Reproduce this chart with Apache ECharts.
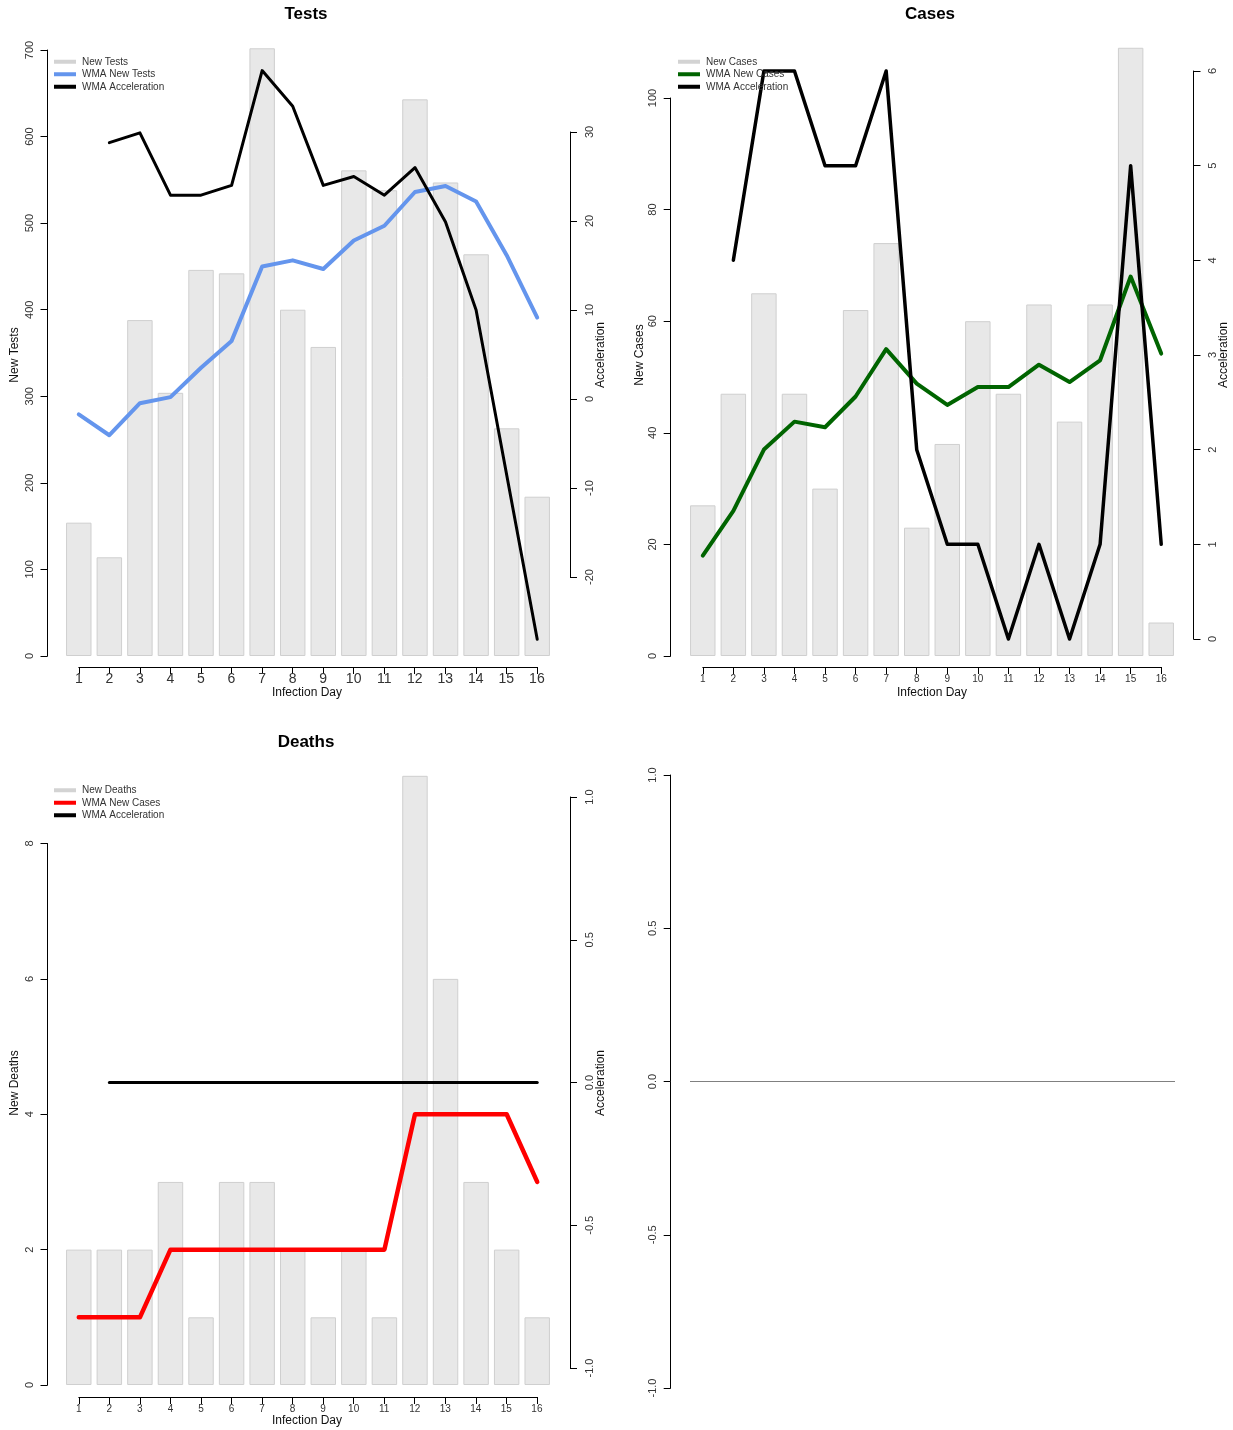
<!DOCTYPE html>
<html>
<head>
<meta charset="utf-8">
<script src="https://cdn.jsdelivr.net/npm/echarts@6/dist/echarts.min.js"></script>
<style>
html,body{margin:0;padding:0;background:#ffffff;}
#chart{width:1233px;height:1430px;}
</style>
</head>
<body>
<div id="chart"></div>
<script>
// ---------------- data ----------------
const days = ['1','2','3','4','5','6','7','8','9','10','11','12','13','14','15','16'];

const testsNew   = [154, 114, 388, 304, 446, 442, 702, 400, 357, 561, 538, 643, 547, 464, 263, 184];
const testsWMA   = [279, 255, 292, 299, 333, 364, 450, 457, 447, 480, 497, 536, 543, 525, 463, 391];
const testsAccel = [null, 28.8, 29.9, 22.9, 22.9, 24.0, 36.9, 32.9, 24.0, 25.0, 22.9, 26.0, 19.9, 10.0, -8.5, -27.0];

const casesNew   = [27, 47, 65, 47, 30, 62, 74, 23, 38, 60, 47, 63, 42, 63, 109, 6];
const casesWMA   = [18, 26, 37, 42, 41, 46.5, 55, 48.8, 45, 48.2, 48.2, 52.2, 49.1, 53, 68, 54.2];
const casesAccel = [null, 4, 6, 6, 5, 5, 6, 2, 1, 1, 0, 1, 0, 1, 5, 1];

const deathsNew   = [2, 2, 2, 3, 1, 3, 3, 2, 1, 2, 1, 9, 6, 3, 2, 1];
const deathsWMA   = [1, 1, 1, 2, 2, 2, 2, 2, 2, 2, 2, 4, 4, 4, 4, 3];
const deathsAccel = [null, 0, 0, 0, 0, 0, 0, 0, 0, 0, 0, 0, 0, 0, 0, 0];

const emptyLineX = [0, 1];
const emptyLineY = [0, 0];

// ---------------- styling helpers ----------------
const FONT = '"Liberation Sans", Arial, Helvetica, sans-serif';
const TICK_COLOR = '#333333';
const BAR_FILL = '#e8e8e8';
const BAR_BORDER = '#cfcfcf';

function valueAxis(gridIndex, position, min, max, interval, offset, fmt) {
  return {
    type: 'value', gridIndex, position, min, max, interval, offset,
    axisLine: {show: true, onZero: false, lineStyle: {color: '#000', width: 1}},
    axisTick: {show: true, length: 7, lineStyle: {color: '#000', width: 1}},
    axisLabel: {show: true, rotate: 90, fontSize: 11, margin: position === 'left' ? 12 : 14,
                color: TICK_COLOR, fontFamily: FONT, formatter: fmt || (v => String(v))},
    splitLine: {show: false}
  };
}
function hiddenValueAxis(gridIndex) {
  return {type: 'value', gridIndex, show: false, min: 0, max: 1, splitLine: {show: false}};
}
function hiddenCatAxis(gridIndex) {
  return {type: 'category', gridIndex, data: days, boundaryGap: true, show: false};
}
function dayAxis(gridIndex, fontSize, margin) {
  return {
    type: 'category', gridIndex, data: days, boundaryGap: false,
    axisLine: {show: true, onZero: false, lineStyle: {color: '#000', width: 1}},
    axisTick: {show: true, length: 7, alignWithLabel: true, lineStyle: {color: '#000'}},
    axisLabel: {show: true, interval: 0, fontSize, margin, color: TICK_COLOR, fontFamily: FONT},
    splitLine: {show: false}
  };
}
function bars(name, xi, yi, data) {
  return {
    type: 'bar', name, xAxisIndex: xi, yAxisIndex: yi, data, clip: false,
    barCategoryGap: '16.67%', silent: true,
    itemStyle: {color: BAR_FILL, borderColor: BAR_BORDER, borderWidth: 1}
  };
}
function line(name, xi, yi, data, color, width) {
  return {
    type: 'line', name, xAxisIndex: xi, yAxisIndex: yi, data, clip: false,
    symbol: 'none', silent: true, color,
    lineStyle: {color, width, cap: 'round', join: 'round'}
  };
}
function legend(left, top, items) {
  return {
    orient: 'vertical', left, top, padding: 0, itemGap: 0,
    itemWidth: 22, itemHeight: 4, icon: 'rect', selectedMode: false,
    textStyle: {fontSize: 10, color: '#333', lineHeight: 12.5, fontFamily: FONT, padding: [0, 0, 0, 1]},
    data: items.map(([n, c]) => ({name: n, icon: 'rect', itemStyle: {color: c, borderWidth: 0}}))
  };
}
function txt(text, x, y, size, opts) {
  opts = opts || {};
  return {
    type: 'text', x, y, rotation: opts.rot || 0, silent: true,
    style: {text, fill: opts.color || '#111', font: (opts.bold ? 'bold ' : '') + size + 'px ' + FONT,
            textAlign: 'center', textVerticalAlign: 'middle'}
  };
}

const ROT = Math.PI / 2;

const option = {
  animation: false,
  backgroundColor: '#ffffff',
  grid: [
    // Tests
    {left: 63.5, width: 489, top: 50, height: 606},          // 0 bars / WMA
    {left: 78.8, width: 458.1, top: 600, height: 67},         // 1 day axis
    {left: 63.5, width: 489, top: 132, height: 445},          // 2 acceleration
    // Cases
    {left: 687.5, width: 489, top: 98, height: 558},          // 3
    {left: 702.8, width: 458.4, top: 600, height: 67},        // 4
    {left: 687.5, width: 489, top: 71, height: 568},          // 5
    // Deaths
    {left: 63.5, width: 489, top: 843.5, height: 541.5},      // 6
    {left: 78.8, width: 458.1, top: 1330, height: 67},        // 7
    {left: 63.5, width: 489, top: 797, height: 571},          // 8
    // empty panel
    {left: 690, width: 485, top: 775, height: 613}            // 9
  ],
  xAxis: [
    hiddenCatAxis(0), dayAxis(1, 14, 5), hiddenCatAxis(2),
    hiddenCatAxis(3), dayAxis(4, 10, 7), hiddenCatAxis(5),
    hiddenCatAxis(6), dayAxis(7, 10, 7), hiddenCatAxis(8),
    {type: 'value', gridIndex: 9, min: 0, max: 1, show: false, splitLine: {show: false}}
  ],
  yAxis: [
    valueAxis(0, 'left', 0, 700, 100, 16),
    hiddenValueAxis(1),
    valueAxis(2, 'right', -20, 30, 10, 17.5),
    valueAxis(3, 'left', 0, 100, 20, 16.8),
    hiddenValueAxis(4),
    valueAxis(5, 'right', 0, 6, 1, 17),
    valueAxis(6, 'left', 0, 8, 2, 16),
    hiddenValueAxis(7),
    valueAxis(8, 'right', -1, 1, 0.5, 17.5, v => v.toFixed(1)),
    valueAxis(9, 'left', -1, 1, 0.5, 19.3, v => v.toFixed(1))
  ],
  legend: [
    legend(54, 55.5, [['New Tests', '#d3d3d3'], ['WMA New Tests', '#6495ED'], ['WMA Acceleration', '#000000']]),
    legend(678, 55.5, [['New Cases', '#d3d3d3'], ['WMA New Cases', '#006400'], ['WMA Acceleration', '#000000']]),
    legend(54, 784, [['New Deaths', '#d3d3d3'], ['WMA New Cases', '#ff0000'], ['WMA Acceleration', '#000000']])
  ],
  series: [
    bars('New Tests', 0, 0, testsNew),
    line('WMA New Tests', 0, 0, testsWMA, '#6495ED', 4),
    line('WMA Acceleration', 2, 2, testsAccel, '#000000', 3),

    bars('New Cases', 3, 3, casesNew),
    line('WMA New Cases', 3, 3, casesWMA, '#006400', 4),
    line('WMA Acceleration', 5, 5, casesAccel, '#000000', 3.5),

    bars('New Deaths', 6, 6, deathsNew),
    line('WMA New Cases', 6, 6, deathsWMA, '#ff0000', 4.5),
    line('WMA Acceleration', 8, 8, deathsAccel, '#000000', 3),

    {type: 'line', name: 'zero', xAxisIndex: 9, yAxisIndex: 9, symbol: 'none', silent: true,
     data: emptyLineX.map((x, i) => [x, emptyLineY[i]]),
     lineStyle: {color: '#808080', width: 1}}
  ],
  graphic: [
    txt('Tests', 306, 14, 17, {bold: true, color: '#000'}),
    txt('Cases', 930, 14, 17, {bold: true, color: '#000'}),
    txt('Deaths', 306, 742, 17, {bold: true, color: '#000'}),

    txt('New Tests', 15, 355, 12, {rot: ROT}),
    txt('Acceleration', 601, 355, 12, {rot: ROT}),
    txt('Infection Day', 307, 693, 12),

    txt('New Cases', 640, 355, 12, {rot: ROT}),
    txt('Acceleration', 1224, 355, 12, {rot: ROT}),
    txt('Infection Day', 932, 693, 12),

    txt('New Deaths', 15, 1083, 12, {rot: ROT}),
    txt('Acceleration', 601, 1083, 12, {rot: ROT}),
    txt('Infection Day', 307, 1421, 12)
  ]
};

const chart = echarts.init(document.getElementById('chart'), null, {renderer: 'canvas'});
chart.setOption(option);
</script>
</body>
</html>
